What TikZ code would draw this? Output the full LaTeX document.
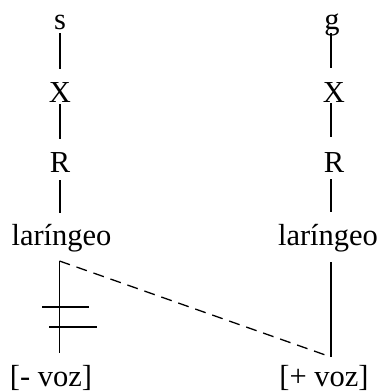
\documentclass[tikz,border=0pt]{standalone}
\usepackage{fontspec}
\setmainfont{Liberation Serif}
\begin{document}
\begin{tikzpicture}[x=1pt,y=-1pt,
  lbl/.style={anchor=base,inner sep=0pt,font=\fontsize{30.5}{36}\selectfont},
  tie/.style={line width=1.4pt},
  dtie/.style={line width=1.3pt,dash pattern=on 11pt off 7pt}]
\useasboundingbox (0,0) rectangle (383,391);
% left column
\node[lbl] (s1) at (60,29) {s};
\node[lbl] (x1) at (60,102) {X};
\node[lbl] (r1) at (60,172) {R};
\node[lbl] (l1) at (61.5,245) {laríngeo};
\node[lbl] (v1) at (51,386) {[- voz]};
% right column
\node[lbl] (s2) at (332,29) {g};
\node[lbl] (x2) at (334,102) {X};
\node[lbl] (r2) at (334,172) {R};
\node[lbl] (l2) at (328,245) {laríngeo};
\node[lbl] (v2) at (324,386) {[+ voz]};
% junction points
\coordinate (la) at (59.5,261);
\coordinate (lb) at (59.5,353);
\coordinate (ra) at (331,262);
\coordinate (rb) at (331,357);
% left ties
\draw[tie] (s1.base) ++(0,4) -- (60,69);
\draw[tie] (x1.base) ++(0,2) -- (60,139);
\draw[tie] (r1.base) ++(0,8) -- (60,213);
\draw[tie] (la) -- (lb);
% right ties
\draw[tie] (331,33) -- (331,68);
\draw[tie] (331,103) -- (331,137);
\draw[tie] (331,179) -- (331,212);
\draw[tie] (ra) -- (rb);
% dashed association
\draw[dtie] (la) -- (rb);
% delinking bars
\draw[tie] (42,307) -- (89,307);
\draw[tie] (49,327) -- (97,327);
\end{tikzpicture}
\end{document}
